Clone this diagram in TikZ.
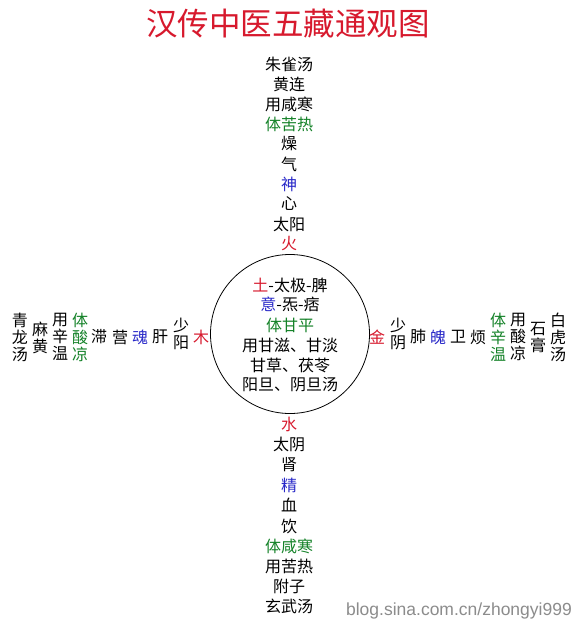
\documentclass[tikz,border=0pt]{standalone}
\usepackage{fontspec}
\newfontfamily\cjk{Noto Sans CJK SC}
\newfontfamily\wmfont{Liberation Sans}
\definecolor{myred}{RGB}{215,25,45}
\definecolor{mygreen}{RGB}{20,130,40}
\definecolor{myblue}{RGB}{40,40,200}
\tikzset{
  txt/.style={inner sep=0pt, font=\cjk\fontsize{16}{17}\selectfont, align=center},
  rd/.style={txt, text=myred},
  gr/.style={txt, text=mygreen},
  bl/.style={txt, text=myblue},
  ring/.style={draw, circle, line width=0.8pt, minimum size=159pt, inner sep=0pt},
}
\begin{document}
\begin{tikzpicture}[x=1pt,y=-1pt]
\useasboundingbox[fill=white] (0,0) rectangle (577,624);
% title
\node[inner sep=0pt, text=myred, font=\cjk\fontsize{31.5}{32}\selectfont] (title) at (288,24) {汉传中医五藏通观图};
% circle
\node[ring] (c) at (290,334) {};
\node[txt] (c1) at (290,285) {\textcolor{myred}{土}-太极-脾};
\node[txt] (c2) at (290,304) {\textcolor{myblue}{意}-炁-痞};
\node[gr] (c3) at (290,325) {体甘平};
\node[txt] (c4) at (290,345) {用甘滋、甘淡};
\node[txt] (c5) at (290,365) {甘草、茯苓};
\node[txt] (c6) at (290,385) {阳旦、阴旦汤};
% top
\node[txt] (t1) at (289,64) {朱雀汤};
\node[txt] (t2) at (289,84) {黄连};
\node[txt] (t3) at (289,104) {用咸寒};
\node[gr]  (t4) at (289,124) {体苦热};
\node[txt] (t5) at (289,144) {燥};
\node[txt] (t6) at (289,164) {气};
\node[bl]  (t7) at (289,184) {神};
\node[txt] (t8) at (289,204) {心};
\node[txt] (t9) at (289,224) {太阳};
\node[rd]  (t10) at (289,244) {火};
% bottom
\node[rd]  (b1) at (289,424) {水};
\node[txt] (b2) at (289,444) {太阴};
\node[txt] (b3) at (289,465) {肾};
\node[bl]  (b4) at (289,485) {精};
\node[txt] (b5) at (289,505) {血};
\node[txt] (b6) at (289,526) {饮};
\node[gr]  (b7) at (289,546) {体咸寒};
\node[txt] (b8) at (289,566) {用苦热};
\node[txt] (b9) at (289,586) {附子};
\node[txt] (b10) at (289,606) {玄武汤};
% left
\node[rd]  (l1) at (201,337) {木};
\node[txt] (l2) at (181,334) {少\\阳};
\node[txt] (l3) at (160,337) {肝};
\node[bl]  (l4) at (140,337) {魂};
\node[txt] (l5) at (120,337) {营};
\node[txt] (l6) at (99,337) {滞};
\node[gr]  (l7) at (80,337) {体\\酸\\凉};
\node[txt] (l8) at (60,337) {用\\辛\\温};
\node[txt] (l9) at (40,338) {麻\\黄};
\node[txt] (l10) at (20,337) {青\\龙\\汤};
% right
\node[rd]  (r1) at (377,337) {金};
\node[txt] (r2) at (398,334) {少\\阴};
\node[txt] (r3) at (418,337) {肺};
\node[bl]  (r4) at (438,337) {魄};
\node[txt] (r5) at (458,337) {卫};
\node[txt] (r6) at (478,337) {烦};
\node[gr]  (r7) at (498,337) {体\\辛\\温};
\node[txt] (r8) at (518,337) {用\\酸\\凉};
\node[txt] (r9) at (538,338) {石\\膏};
\node[txt] (r10) at (558,337) {白\\虎\\汤};
% watermark
\node[inner sep=0pt, text=black!45, font=\wmfont\fontsize{17.5}{18}\selectfont, anchor=east] (wm) at (572,611) {blog.sina.com.cn/zhongyi999};
\end{tikzpicture}
\end{document}
